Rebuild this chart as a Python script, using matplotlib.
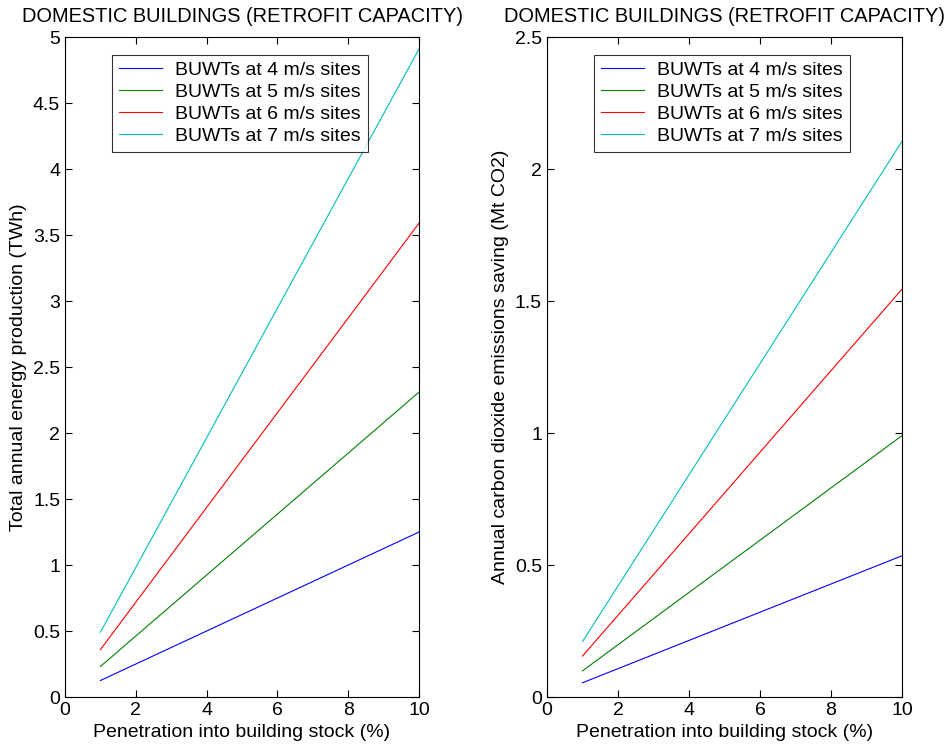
import numpy as np
import matplotlib.pyplot as plt

plt.rcParams['font.family'] = ['Liberation Sans', 'DejaVu Sans']

### DATA
penetration = [1, 10]  # % of building stock
labels = ['BUWTs at 4 m/s sites', 'BUWTs at 5 m/s sites',
          'BUWTs at 6 m/s sites', 'BUWTs at 7 m/s sites']
energy_4 = [0.125, 1.25]
energy_5 = [0.231, 2.31]
energy_6 = [0.359, 3.59]
energy_7 = [0.491, 4.91]
co2_4 = [0.054, 0.535]
co2_5 = [0.099, 0.99]
co2_6 = [0.155, 1.545]
co2_7 = [0.210, 2.105]
colors = ['#0000ff', '#008000', '#ff0000', '#00bfbf']

title = 'DOMESTIC BUILDINGS (RETROFIT CAPACITY)'
xlab = 'Penetration into building stock (%)'

fig = plt.figure(figsize=(9.46, 7.49), dpi=100)
ax1 = fig.add_axes([0.0687, 0.0694, 0.3743, 0.8812])
ax2 = fig.add_axes([0.5782, 0.0694, 0.3753, 0.8812])

def draw(ax, series, ylim, yticks, ylabel):
    for s, c, lab in zip(series, colors, labels):
        ax.plot(penetration, s, color=c, lw=0.8, label=lab)
    ax.set_xlim(0, 10)
    ax.set_ylim(*ylim)
    ax.set_xticks([0, 2, 4, 6, 8, 10])
    ax.set_yticks(yticks)
    ax.set_yticklabels([('%g' % v) for v in yticks])
    ax.tick_params(direction='in', top=True, right=True, labelsize=14, length=5)
    ax.set_title(title, fontsize=14.4, pad=11)
    ax.set_xlabel(xlab, fontsize=14)
    ax.set_ylabel(ylabel, fontsize=14)
    leg = ax.legend(loc='upper left', bbox_to_anchor=(0.133, 0.973), fontsize=14,
                    frameon=True, fancybox=False, edgecolor='black',
                    borderpad=0.35, labelspacing=0.22, handlelength=2.2,
                    handletextpad=0.7, borderaxespad=0)
    leg.get_frame().set_linewidth(0.8)

draw(ax1, [energy_4, energy_5, energy_6, energy_7], (0, 5),
     np.arange(0, 5.01, 0.5), 'Total annual energy production (TWh)')
draw(ax2, [co2_4, co2_5, co2_6, co2_7], (0, 2.5),
     [0, 0.5, 1, 1.5, 2, 2.5], 'Annual carbon dioxide emissions saving (Mt CO2)')

fig.savefig('out.png', dpi=100)
